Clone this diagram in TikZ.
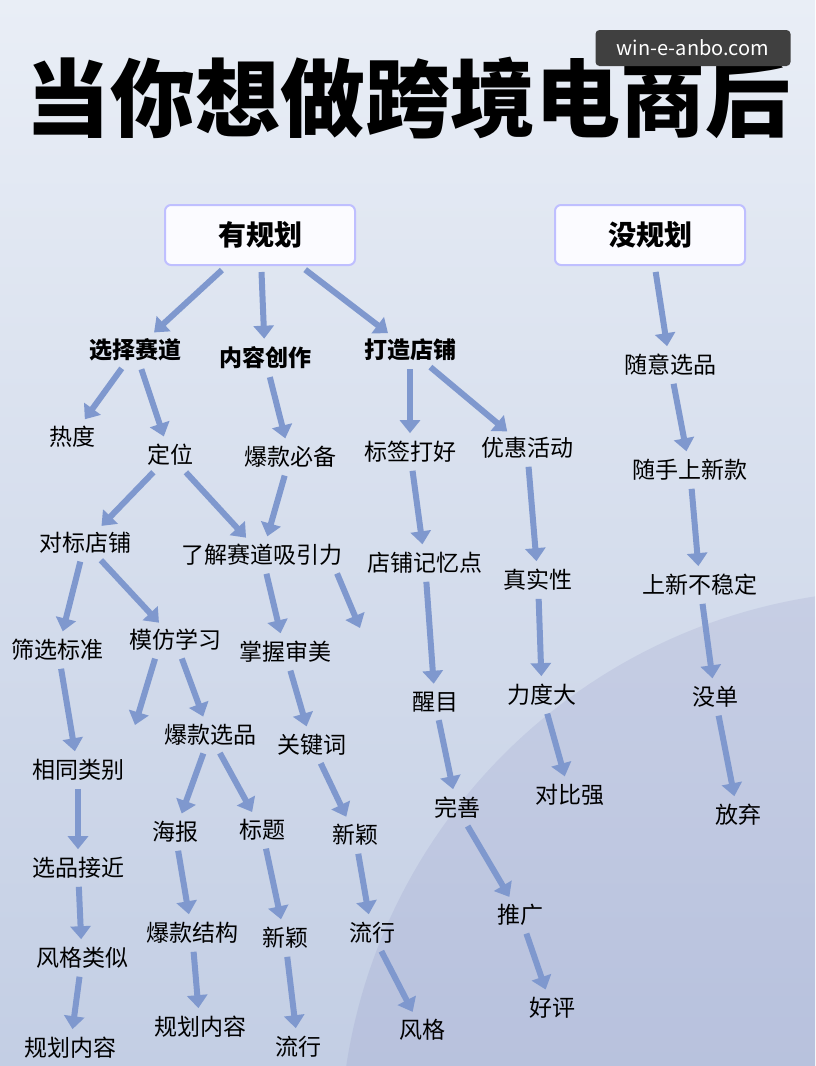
\documentclass[tikz,border=0pt]{standalone}
\usepackage{fontspec}
\setmainfont{Noto Sans CJK SC}
\usetikzlibrary{arrows.meta}
\tikzset{
  t/.style = {font=\fontsize{23}{26}\selectfont, inner sep=2pt},
  tb/.style = {t, font=\fontsize{23}{26}\selectfont\bfseries},
  box/.style = {draw=blue!25, line width=2pt, fill=white!85!blue!10, rounded corners=6pt,
          minimum width=190pt, minimum height=60pt, font=\fontsize{28}{30}\selectfont\bfseries},
  ar/.style = {line width=6pt, draw=arrowc, shorten <=6pt, shorten >=6pt,
          -{Triangle[length=13pt,width=20pt]}},
}
\definecolor{arrowc}{HTML}{7F98CE}
\definecolor{bgtop}{HTML}{E9EEF6}
\definecolor{bgbot}{HTML}{C3CEE4}
\begin{document}
\begin{tikzpicture}[x=1pt,y=-1pt]
  \useasboundingbox (0,0) rectangle (815,1066);
  % background
  \shade[top color=bgtop, bottom color=bgbot] (0,0) rectangle (815,1066);
  \begin{scope}
    \clip (0,0) rectangle (815,1066);
    \fill[blue!30!gray, opacity=0.1] (900,1150) circle[radius=560];
  \end{scope}
  % title
  \node[font=\fontsize{85}{90}\selectfont\bfseries] (title) at (408,98) {当你想做跨境电商后};
  \node[fill=black!75, rounded corners=4pt, text=white, font=\fontsize{20}{22}\selectfont,
        minimum width=195pt, minimum height=36pt] (wm) at (693,48) {win-e-anbo.com};
  % heads
  \node[box] (yes) at (260,235) {有规划};
  \node[box] (no) at (650,235) {没规划};
  % left part
  \node[tb] (xz) at (135,350) {选择赛道};
  \node[tb] (nr) at (265,358) {内容创作};
  \node[tb] (dz) at (410,350) {打造店铺};
  \node[t] (rd) at (72,437) {热度};
  \node[t] (dw) at (170,455) {定位};
  \node[t] (bkbb) at (290,457) {爆款必备};
  \node[t] (bq) at (410,452) {标签打好};
  \node[t] (yh) at (527,448) {优惠活动};
  \node[t] (db) at (85,543) {对标店铺};
  \node[t] (lj) at (262,555) {了解赛道吸引力};
  \node[t] (jy) at (425,563) {店铺记忆点};
  \node[t] (zs) at (538,580) {真实性};
  \node[t] (sx) at (58,650) {筛选标准};
  \node[t] (mf) at (175,640) {模仿学习};
  \node[t] (zw) at (285,652) {掌握审美};
  \node[t] (xm) at (435,702) {醒目};
  \node[t] (ld) at (542,695) {力度大};
  \node[t] (xt) at (78,770) {相同类别};
  \node[t] (bkxp) at (210,735) {爆款选品};
  \node[t] (gj) at (312,745) {关键词};
  \node[t] (ws) at (457,808) {完善};
  \node[t] (dbq) at (570,795) {对比强};
  \node[t] (hb) at (175,832) {海报};
  \node[t] (bt) at (262,830) {标题};
  \node[t] (xy1) at (355,835) {新颖};
  \node[t] (xpjj) at (78,868) {选品接近};
  \node[t] (tg) at (520,915) {推广};
  \node[t] (bkjg) at (192,933) {爆款结构};
  \node[t] (xy2) at (285,938) {新颖};
  \node[t] (lx1) at (372,933) {流行};
  \node[t] (fgls) at (82,958) {风格类似};
  \node[t] (hp) at (552,1008) {好评};
  \node[t] (gh1) at (70,1048) {规划内容};
  \node[t] (gh2) at (200,1027) {规划内容};
  \node[t] (lx2) at (298,1047) {流行};
  \node[t] (fg) at (422,1030) {风格};
  \coordinate (ljend) at (360,628);
  \coordinate (mfend) at (135,725);
  % right part
  \node[t] (sy) at (670,365) {随意选品};
  \node[t] (ss) at (690,470) {随手上新款};
  \node[t] (sxbw) at (700,585) {上新不稳定};
  \node[t] (md) at (715,697) {没单};
  \node[t] (fq) at (738,815) {放弃};
  % arrows
  \foreach \a/\b in {yes/xz, yes/nr, yes/dz, xz/rd, xz/dw, nr/bkbb, dz/bq, dz/yh,
      dw/db, dw/lj, bkbb/lj, bq/jy, yh/zs, db/sx, db/mf, lj/zw,
      jy/xm, zs/ld, sx/xt, mf/bkxp, zw/gj, xm/ws, ld/dbq, xt/xpjj,
      bkxp/hb, bkxp/bt, gj/xy1, ws/tg, xpjj/fgls, hb/bkjg, bt/xy2, xy1/lx1,
      tg/hp, fgls/gh1, bkjg/gh2, xy2/lx2, lx1/fg,
      no/sy, sy/ss, ss/sxbw, sxbw/md, md/fq}
    \draw[ar] (\a) -- (\b);
  \draw[ar, shorten >=0pt] (lj.south east) ++(-10,0) -- (ljend);
  \draw[ar, shorten >=0pt] (mf.south west) ++(30,0) -- (mfend);
\end{tikzpicture}
\end{document}
